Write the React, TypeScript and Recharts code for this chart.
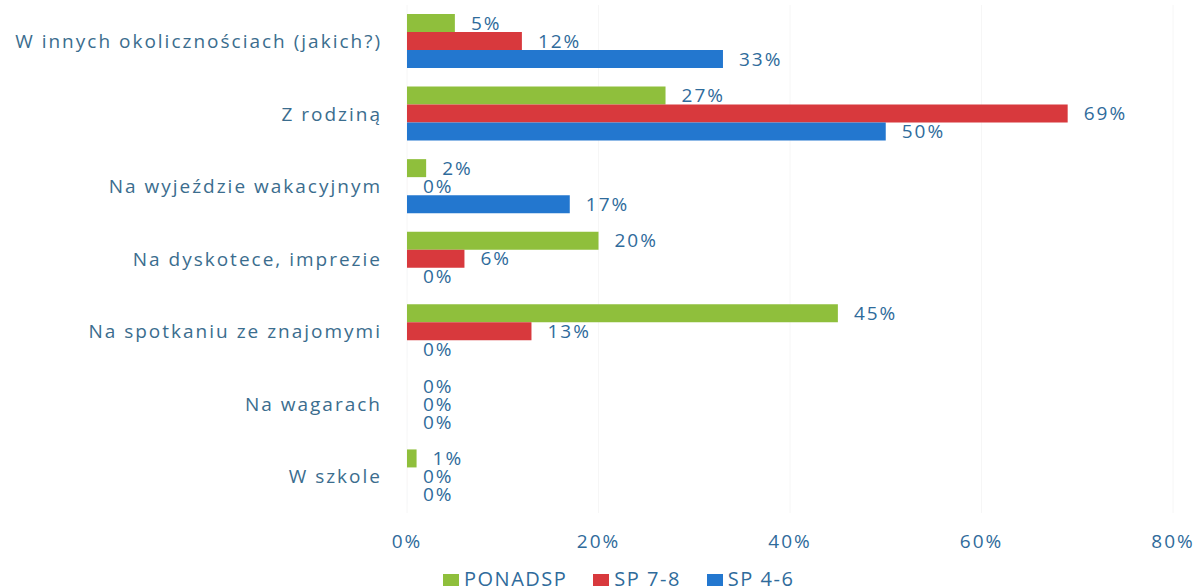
import React from 'react';
import { BarChart, Bar, XAxis, YAxis, CartesianGrid, Legend, LabelList } from 'recharts';

const categories = [
  'W innych okolicznościach (jakich?)',
  'Z rodziną',
  'Na wyjeździe wakacyjnym',
  'Na dyskotece, imprezie',
  'Na spotkaniu ze znajomymi',
  'Na wagarach',
  'W szkole',
];
const ponadsp = [5, 27, 2, 20, 45, 0, 1];
const sp78 = [12, 69, 0, 6, 13, 0, 0];
const sp46 = [33, 50, 17, 0, 0, 0, 0];
const xTicks = [0, 20, 40, 60, 80];
const seriesKeys = ['ponadsp', 'sp78', 'sp46'];
const seriesNames = ['PONADSP', 'SP 7-8', 'SP 4-6'];
const seriesColors = ['#8fbf3c', '#d8393d', '#2377cf'];

const data = categories.map((name, i) => ({
  name,
  ponadsp: ponadsp[i],
  sp78: sp78[i],
  sp46: sp46[i],
}));

const FONT = '"Open Sans", sans-serif';
const LABEL_COLOR = '#2f6b9b';
const CAT_COLOR = '#3b6d8e';

const renderLegend = () => (
  <div style={{ display: 'flex', height: 21, paddingLeft: 443, fontFamily: FONT, fontSize: 20, letterSpacing: 1.5, lineHeight: '21px', color: LABEL_COLOR, boxSizing: 'border-box' }}>
    {seriesNames.map((n, i) => (
      <div key={n} style={{ display: 'flex', alignItems: 'center', marginRight: 26, paddingTop: 3 }}>
        <span style={{ display: 'inline-block', width: 16, height: 12, background: seriesColors[i], marginRight: 5, marginTop: 4 }} />
        <span>{n}</span>
      </div>
    ))}
  </div>
);

export default function App() {
  return (
    <div style={{ position: 'absolute', left: 0, top: 0, background: '#fff' }}>
      <BarChart
        width={1201}
        height={587}
        data={data}
        layout="vertical"
        margin={{ top: 5, right: 28, bottom: 0, left: 0 }}
        barGap={0}
        barSize={18}
        style={{ fontFamily: FONT }}
      >
        <CartesianGrid horizontal={false} stroke="#f6f6f6" />
        <XAxis
          type="number"
          domain={[0, 80]}
          ticks={xTicks}
          tickFormatter={(v: number) => `${v}%`}
          axisLine={false}
          tickLine={false}
          height={53}
          tickMargin={16}
          tick={{ fill: LABEL_COLOR, fontSize: 19, fontFamily: FONT, letterSpacing: 2 }}
        />
        <YAxis
          type="category"
          dataKey="name"
          width={407}
          interval={0}
          axisLine={false}
          tickLine={false}
          tickMargin={19}
          tick={{ fill: CAT_COLOR, fontSize: 19, fontFamily: FONT, letterSpacing: 2 }}
        />
        <Legend verticalAlign="bottom" content={renderLegend} wrapperStyle={{ left: 0, width: 1201 }} />
        {seriesKeys.map((k, i) => (
          <Bar key={k} dataKey={k} name={seriesNames[i]} fill={seriesColors[i]} minPointSize={0.01} isAnimationActive={false}>
            <LabelList
              dataKey={k}
              position="right"
              offset={16}
              formatter={(v: number) => `${v}%`}
              style={{ fill: LABEL_COLOR, fontSize: 19, fontFamily: FONT, letterSpacing: 2 }}
            />
          </Bar>
        ))}
      </BarChart>
    </div>
  );
}
